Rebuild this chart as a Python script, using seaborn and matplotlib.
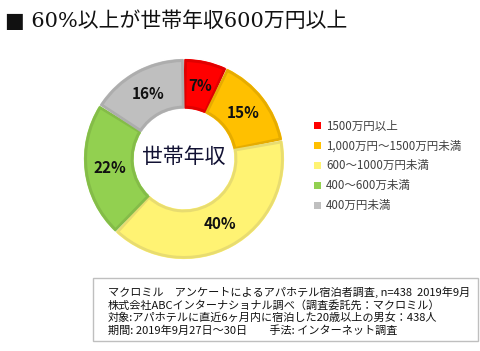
import matplotlib
matplotlib.use("Agg")
import matplotlib.pyplot as plt
import matplotlib.patches as mpatches
import seaborn as sns

sns.set_theme(style="white")
plt.rcParams['font.family'] = ['Noto Sans CJK JP', 'DejaVu Sans']

categories = ["1500万円以上", "1,000万円～1500万円未満", "600～1000万円未満", "400～600万未満", "400万円未満"]
values = [7, 15, 40, 22, 16]
colors = ["#FF0000", "#FFC000", "#FFF373", "#92D050", "#BFBFBF"]
edge_colors = ["#E00000", "#E6AC00", "#E8DC70", "#84BC48", "#ADADAD"]
title = "■ 60%以上が世帯年収600万円以上"
center_label = "世帯年収"
source_lines = [
    "マクロミル　アンケートによるアパホテル宿泊者調査, n=438  2019年9月",
    "株式会社ABCインターナショナル調べ（調査委託先：マクロミル）",
    "対象:アパホテルに直近6ヶ月内に宿泊した20歳以上の男女：438人",
    "期間: 2019年9月27日～30日　　手法: インターネット調査",
]

W, H = 480, 351
fig = plt.figure(figsize=(W / 100, H / 100), dpi=100)
fig.patch.set_facecolor("white")

cx, cy, r = 184, 159, 103
ax = fig.add_axes([(cx - r) / W, (H - cy - r) / H, 2 * r / W, 2 * r / H])
wedges, texts, autotexts = ax.pie(
    values, colors=colors, startangle=90, counterclock=False, radius=0.98,
    autopct=lambda p: f"{p:.0f}%", pctdistance=0.74,
    wedgeprops=dict(width=0.5, edgecolor="white", linewidth=1.2),
    textprops=dict(fontsize=11, fontweight="bold", color="#111111"),
)
for w, ec in zip(wedges, edge_colors):
    inner = mpatches.Wedge(w.center, w.r - 0.025, w.theta1 + 0.9, w.theta2 - 0.9,
                           width=w.width - 0.05, facecolor="none", edgecolor=ec, linewidth=2.0)
    ax.add_patch(inner)
ax.set_xlim(-1, 1)
ax.set_ylim(-1, 1)
ax.set_aspect("equal")
ax.axis("off")
ax.text(0, 0.02, center_label, ha="center", va="center", fontsize=15, color="#111133")

fig.text(5 / W, 1 - 21 / H, title, fontsize=15, color="#111111", va="center", ha="left",
         family=['DejaVu Serif', 'Noto Sans CJK JP'])

lx, ly0, dy = 314, 126, 19.8
for i, (c, lab) in enumerate(zip(colors, categories)):
    y = ly0 + i * dy
    fig.patches.append(mpatches.Rectangle(((lx) / W, 1 - (y + 3.5) / H), 7 / W, 7 / H,
                                          transform=fig.transFigure, facecolor=c, edgecolor="none"))
    fig.text((lx + 12) / W, 1 - y / H, lab, fontsize=8.3, color="#404040", va="center", ha="left")

bx0, by0, bx1, by1 = 93, 278, 478, 341
fig.patches.append(mpatches.Rectangle((bx0 / W, 1 - by1 / H), (bx1 - bx0) / W, (by1 - by0) / H,
                                      transform=fig.transFigure, facecolor="white",
                                      edgecolor="#BFBFBF", linewidth=1.0))
for i, line in enumerate(source_lines):
    fig.text(108 / W, 1 - (292 + i * 12.8) / H, line, fontsize=8.0, color="#111111",
             va="center", ha="left")

fig.savefig("out.png", dpi=100, facecolor="white")
